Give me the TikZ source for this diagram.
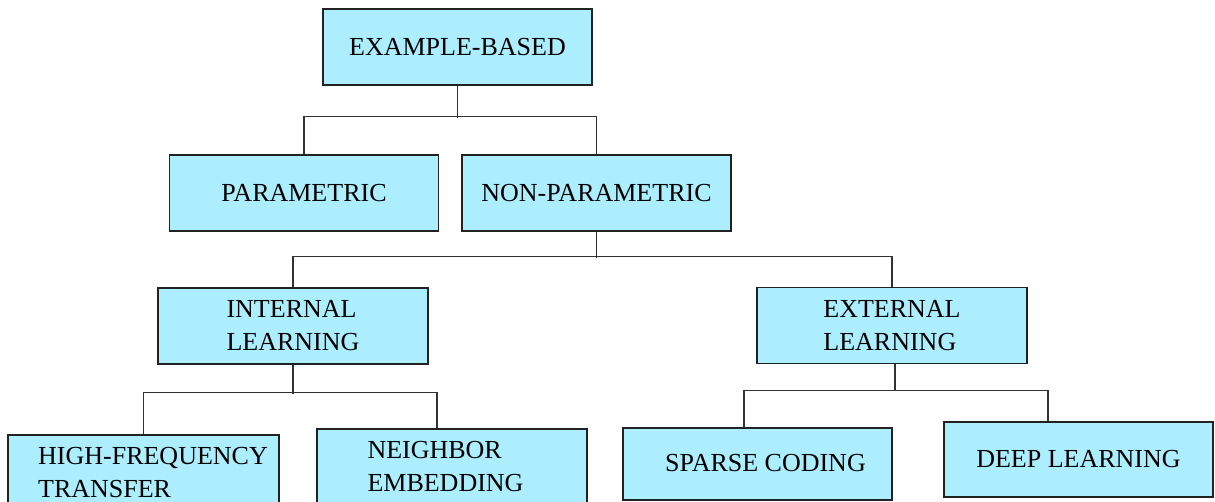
\documentclass[tikz,border=0pt]{standalone}
\usepackage{fontspec}
\setmainfont{Liberation Serif}
\definecolor{boxfill}{RGB}{172,238,254}
\definecolor{boxline}{RGB}{34,34,34}
\definecolor{wire}{RGB}{50,50,50}
\begin{document}
\begin{tikzpicture}[x=1pt,y=1pt,
  box/.style={draw=boxline, line width=1.4pt, fill=boxfill, inner sep=0pt,
    minimum width=270pt, minimum height=76pt, align=left,
    font=\fontsize{26}{33}\selectfont},
  link/.style={draw=wire, line width=1.5pt}]
\useasboundingbox (0,0) rectangle (1215,-502);

% top level
\node[box, minimum width=269pt] (eb) at (457.5,-47) {EXAMPLE-BASED};

% second level
\node[box, minimum width=269pt] (par)  at (304,-193)   {PARAMETRIC};
\node[box, minimum width=269pt] (npar) at (596.5,-193) {NON-PARAMETRIC};

% third level
\node[box] (int) at (293,-326)   {INTERNAL\\LEARNING};
\node[box] (ext) at (892,-325.5) {EXTERNAL\\LEARNING};

% leaves
\node[box, minimum width=271pt] (hft) at (143.5,-473)
  {\hspace*{19pt}HIGH-FREQUENCY\\\hspace*{19pt}TRANSFER};
\node[box] (nbr) at (452,-467)
  {\hspace*{-13pt}NEIGHBOR\\\hspace*{-13pt}EMBEDDING};
\node[box, minimum width=269pt, minimum height=72pt] (sp) at (757.5,-464)
  {\raisebox{3pt}{\hspace*{16pt}SPARSE CODING}};
\node[box, minimum width=269pt, minimum height=75pt] (dl) at (1078.5,-459.5)
  {DEEP LEARNING};

% tree connectors
\draw[link] (eb.south) -- ++(0,-32);
\draw[link] (par.north) -- ++(0,38) -| (npar.north);

\draw[link] (npar.south) -- ++(0,-26);
\draw[link] (int.north) -- ++(0,31) -| (ext.north);

\draw[link] (int.south) -- ++(0,-29);
\draw[link] (hft.north) -- ++(0,42) -| ([xshift=-15pt]nbr.north);

\draw[link] ([xshift=3pt]ext.south) -- ++(0,-27);
\draw[link] ([xshift=-13.5pt]sp.north) -- ++(0,37) -| ([xshift=-30.5pt]dl.north);
\end{tikzpicture}
\end{document}
